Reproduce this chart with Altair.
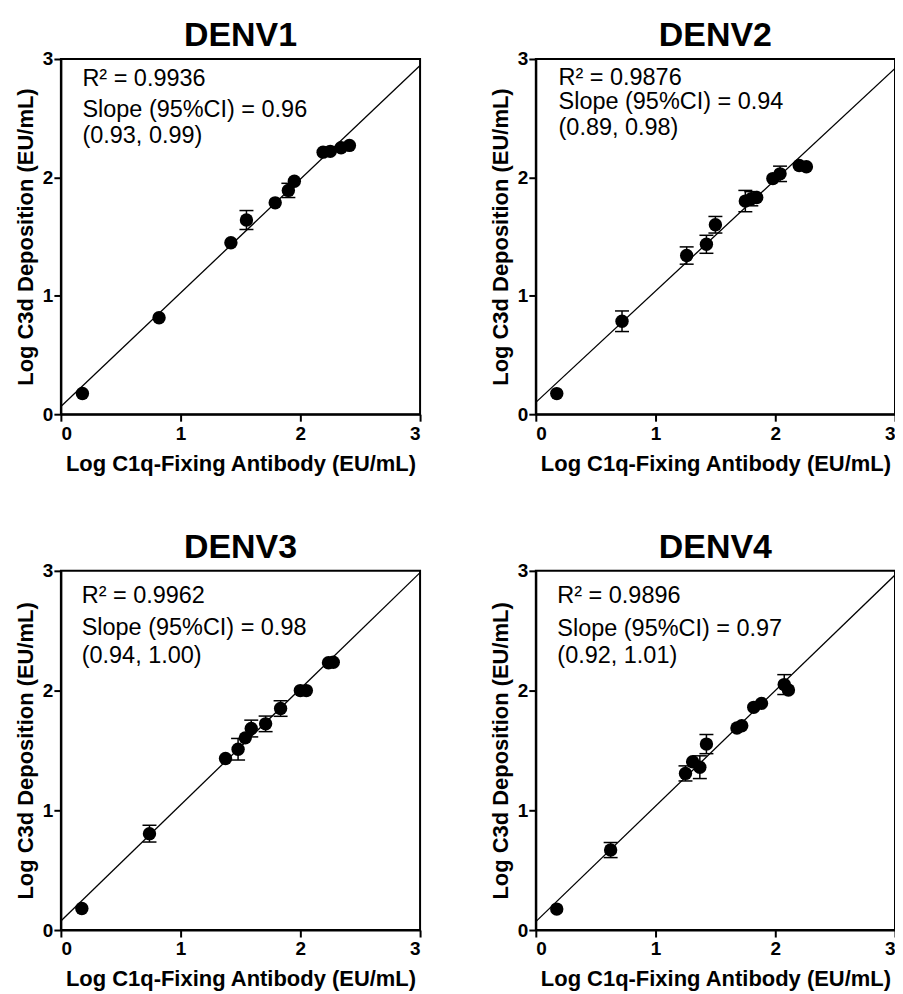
import altair as alt
import pandas as pd

FONT = "Liberation Sans"

titles = ["DENV1", "DENV2", "DENV3", "DENV4"]

# Log C1q-fixing antibody (x), log C3d deposition (y), error (SD, 0 = none drawn)
xs = [
    [0.18, 0.82, 1.42, 1.55, 1.79, 1.90, 1.95, 2.19, 2.25, 2.34, 2.41],
    [0.175, 0.72, 1.26, 1.425, 1.50, 1.75, 1.80, 1.845, 1.98, 2.04, 2.20, 2.26],
    [0.175, 0.74, 1.375, 1.48, 1.54, 1.59, 1.71, 1.835, 2.00, 2.05, 2.235, 2.275],
    [0.175, 0.625, 1.25, 1.31, 1.37, 1.425, 1.68, 1.72, 1.82, 1.885, 2.075, 2.11],
]
ys = [
    [0.175, 0.815, 1.448, 1.64, 1.785, 1.89, 1.968, 2.213, 2.22, 2.25, 2.27],
    [0.174, 0.785, 1.34, 1.435, 1.60, 1.80, 1.82, 1.83, 1.99, 2.03, 2.10, 2.09],
    [0.18, 0.805, 1.433, 1.51, 1.605, 1.683, 1.722, 1.85, 2.00, 2.00, 2.232, 2.237],
    [0.175, 0.668, 1.308, 1.405, 1.36, 1.553, 1.687, 1.706, 1.86, 1.893, 2.05, 2.005],
]
errs = [
    [0, 0, 0, 0.08, 0, 0.06, 0, 0, 0, 0, 0],
    [0, 0.087, 0.073, 0.076, 0.07, 0.09, 0.06, 0, 0, 0.065, 0, 0],
    [0, 0.07, 0, 0.09, 0, 0.07, 0.065, 0.065, 0, 0, 0, 0],
    [0, 0.063, 0.063, 0, 0.095, 0.08, 0, 0, 0, 0, 0.083, 0],
]

r2_text = ["R\u00b2 = 0.9936", "R\u00b2 = 0.9876", "R\u00b2 = 0.9962", "R\u00b2 = 0.9896"]
slope_text = ["Slope (95%CI) = 0.96", "Slope (95%CI) = 0.94",
              "Slope (95%CI) = 0.98", "Slope (95%CI) = 0.97"]
ci_text = ["(0.93, 0.99)", "(0.89, 0.98)", "(0.94, 1.00)", "(0.92, 1.01)"]

fit_slope = [0.96, 0.94, 0.97, 0.965]
fit_int = [0.065, 0.10, 0.075, 0.07]

text_x = [0.18, 0.19, 0.174, 0.18]
text_y = [[2.83, 2.57, 2.35], [2.84, 2.64, 2.42], [2.79, 2.52, 2.29], [2.79, 2.51, 2.29]]

XTITLE = "Log C1q-Fixing Antibody (EU/mL)"
YTITLE = "Log C3d Deposition (EU/mL)"


def X(field):
    return alt.X(f"{field}:Q", scale=alt.Scale(domain=[0, 3], nice=False, zero=False),
                 axis=alt.Axis(values=[0, 1, 2, 3], format="d", title=XTITLE))


def Y(field):
    return alt.Y(f"{field}:Q", scale=alt.Scale(domain=[0, 3], nice=False, zero=False),
                 axis=alt.Axis(values=[0, 1, 2, 3], format="d", title=YTITLE))


def panel(i, h):
    df = pd.DataFrame({"x": xs[i], "y": ys[i], "err": errs[i]})
    df["lo"] = df["y"] - df["err"]
    df["hi"] = df["y"] + df["err"]
    eb = df[df["err"] > 0]
    fit = pd.DataFrame({"x": [0.0, 3.0]})
    fit["y"] = fit_int[i] + fit_slope[i] * fit["x"]
    txt = pd.DataFrame({"x": [text_x[i]] * 3, "y": text_y[i],
                        "t": [r2_text[i], slope_text[i], ci_text[i]]})

    line = alt.Chart(fit).mark_line(color="black", strokeWidth=1.3).encode(x=X("x"), y=Y("y"))
    rule = alt.Chart(eb).mark_rule(color="black", strokeWidth=1.5).encode(
        x=X("x"), y=Y("lo"), y2="hi")
    cap_lo = alt.Chart(eb).mark_tick(color="black", orient="horizontal", size=14,
                                     thickness=1.5, opacity=1).encode(x=X("x"), y=Y("lo"))
    cap_hi = alt.Chart(eb).mark_tick(color="black", orient="horizontal", size=14,
                                     thickness=1.5, opacity=1).encode(x=X("x"), y=Y("hi"))
    pts = alt.Chart(df).mark_circle(color="black", size=180, opacity=1).encode(
        x=X("x"), y=Y("y"))
    text = alt.Chart(txt).mark_text(align="left", baseline="middle", fontSize=23.5,
                                    font=FONT, color="black").encode(
        x=X("x"), y=Y("y"), text="t:N")
    return alt.layer(line, rule, cap_lo, cap_hi, pts, text).properties(
        width=360, height=h,
        title=alt.TitleParams(titles[i], fontSize=34, font=FONT, fontWeight="bold",
                              anchor="middle", baseline="alphabetic", offset=-30,
                              color="black"),
    )


row1 = alt.hconcat(panel(0, 356), panel(1, 356), spacing=64)
row2 = alt.hconcat(panel(2, 360), panel(3, 360), spacing=64)
chart = alt.vconcat(row1, row2, spacing=55).properties(
    padding={"left": 5, "top": 9, "right": -4, "bottom": 0}
).configure_view(stroke="black", strokeWidth=2).configure_axis(
    grid=False, domainColor="black", domainWidth=2, tickColor="black", tickWidth=2,
    tickSize=7, labelFont=FONT, labelFontSize=19, labelFontWeight="bold",
    labelColor="black", labelPadding=3, titleFont=FONT, titleFontSize=22,
    titleFontWeight="bold", titleColor="black",
).configure_axisX(titlePadding=10).configure_axisY(titlePadding=5, labelPadding=1)

chart.save("out.html", embed_options={"renderer": "svg", "actions": False})
